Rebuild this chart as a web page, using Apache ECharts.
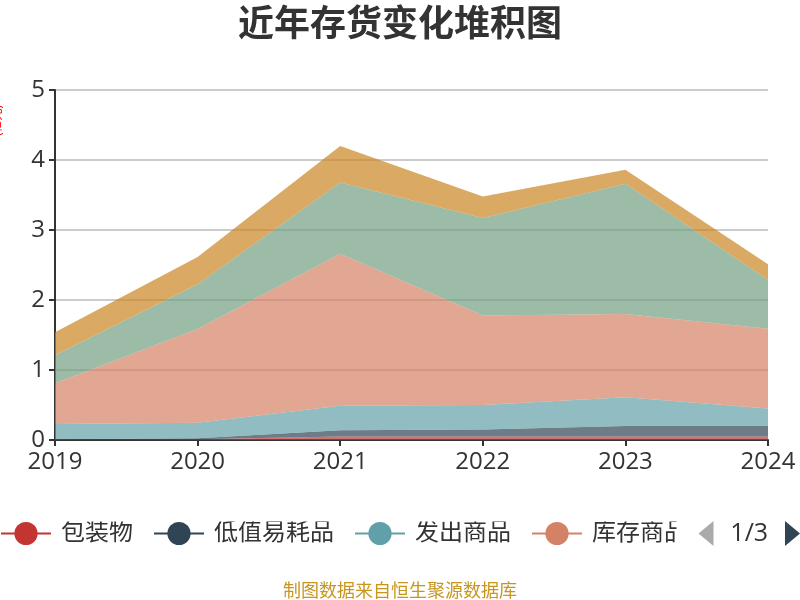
<!DOCTYPE html>
<html>
<head>
<meta charset="utf-8">
<script src="https://cdn.jsdelivr.net/npm/echarts@6/dist/echarts.min.js"></script>
<style>html,body{margin:0;padding:0;background:#fff}#c{width:800px;height:600px}</style>
</head>
<body>
<div id="c"></div>
<script>
var years = ['2019', '2020', '2021', '2022', '2023', '2024'];
var seriesNames = ['包装物', '低值易耗品', '发出商品', '库存商品', '委托加工物资', '原材料', '在产品', '周转材料', '自制半成品'];
var baozhuangwu = [0.005, 0.01, 0.05, 0.05, 0.05, 0.05];
var dizhiyihaopin = [0.005, 0.015, 0.09, 0.10, 0.15, 0.15];
var fachushangpin = [0.22, 0.22, 0.35, 0.35, 0.41, 0.25];
var kucunshangpin = [0.58, 1.34, 2.17, 1.28, 1.19, 1.14];
var weituojiagong = [0, 0, 0, 0, 0, 0];
var yuancailiao = [0.40, 0.64, 1.02, 1.39, 1.86, 0.70];
var zaichanpin = [0.33, 0.39, 0.52, 0.31, 0.20, 0.22];
var zhouzhuancailiao = [0, 0, 0, 0, 0, 0];
var zizhibanchengpin = [0, 0, 0, 0, 0, 0];
var yTicks = [0, 1, 2, 3, 4, 5];

var seriesValues = [baozhuangwu, dizhiyihaopin, fachushangpin, kucunshangpin, weituojiagong, yuancailiao, zaichanpin, zhouzhuancailiao, zizhibanchengpin];
var palette = ['#c23531','#2f4554','#61a0a8','#d48265','#91c7ae','#749f83','#ca8622','#bda29a','#6e7074','#546570','#c4ccd3'];
var FONT = "'Open Sans','Noto Sans CJK SC',sans-serif";

var chart = echarts.init(document.getElementById('c'), null, {renderer: 'canvas'});
var series = seriesNames.map(function (n, i) {
  return {
    name: n,
    type: 'line',
    stack: 'total',
    symbol: 'circle',
    showSymbol: false,
    data: seriesValues[i],
    lineStyle: {width: 0},
    areaStyle: {opacity: 0.7}
  };
});

chart.setOption({
  color: palette,
  textStyle: {fontFamily: FONT},
  animation: false,
  title: [{
    text: '近年存货变化堆积图',
    left: 'center',
    top: 3,
    textStyle: {fontSize: 36, fontWeight: 'bold', color: '#333', fontFamily: FONT}
  }, {
    text: '制图数据来自恒生聚源数据库',
    left: 'center',
    top: 578,
    textStyle: {fontSize: 18, fontWeight: 'normal', color: '#C8961E', fontFamily: FONT}
  }],
  graphic: [{
    type: 'text',
    x: -8,
    y: 136,
    rotation: Math.PI / 2,
    style: {text: '(亿元)', fontSize: 12, fill: '#ff0000', fontFamily: FONT}
  }],
  legend: {
    type: 'scroll',
    data: seriesNames,
    left: 0,
    right: 3,
    top: 521,
    padding: 0,
    itemWidth: 50,
    itemHeight: 29,
    itemGap: 20,
    textStyle: {fontSize: 24, color: '#333', padding: [0, 0, 0, 5], fontFamily: FONT},
    lineStyle: {width: 2, opacity: 1},
    pageIconSize: [16, 25],
    pageButtonItemGap: 5,
    pageButtonGap: 22,
    pageIconColor: '#2f4554',
    pageIconInactiveColor: '#aaa',
    pageTextStyle: {fontSize: 25, color: '#333', fontFamily: FONT}
  },
  grid: {left: 55, right: 32, top: 90, bottom: 160},
  xAxis: {
    type: 'category',
    data: years,
    boundaryGap: false,
    axisLine: {lineStyle: {color: '#333', width: 2}},
    axisTick: {lineStyle: {color: '#333', width: 2}, length: 6},
    axisLabel: {fontSize: 24, color: '#333', margin: 10}
  },
  yAxis: {
    type: 'value',
    min: yTicks[0],
    max: yTicks[yTicks.length - 1],
    interval: 1,
    axisLine: {show: true, lineStyle: {color: '#333', width: 2}},
    axisTick: {show: true, lineStyle: {color: '#333', width: 2}, length: 6},
    axisLabel: {fontSize: 24, color: '#333', margin: 10},
    splitLine: {lineStyle: {color: '#ccc', width: 2}}
  },
  series: series
});
</script>
</body>
</html>
